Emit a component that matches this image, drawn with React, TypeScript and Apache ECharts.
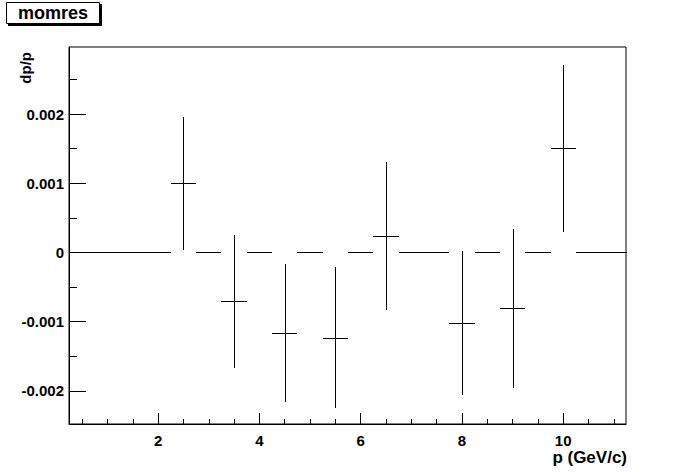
import React, { useEffect, useRef } from "react";
import * as echarts from "echarts";

// Histogram "momres": bin centres (GeV/c), dp/p contents and errors
const binCenters = [0.5, 1.0, 1.5, 2.0, 2.5, 3.0, 3.5, 4.0, 4.5, 5.0, 5.5, 6.0, 6.5, 7.0, 7.5, 8.0, 8.5, 9.0, 9.5, 10.0, 10.5, 11.0];
const dpOverP = [0, 0, 0, 0, 0.001, 0, -0.000709, 0, -0.00116, 0, -0.00123, 0, 0.00024, 0, 0, -0.001022, 0, -0.00081, 0, 0.001505, 0, 0];
const dpErrors = [0, 0, 0, 0, 0.000965, 0, 0.000958, 0, 0.000996, 0, 0.001018, 0, 0.001068, 0, 0, 0.001037, 0, 0.001148, 0, 0.001206, 0, 0];
const binHalfWidth = 0.25;

const xMajorTicks = [2, 4, 6, 8, 10];
const xMinorTicks = [0.5, 1.0, 1.5, 2.5, 3.0, 3.5, 4.5, 5.0, 5.5, 6.5, 7.0, 7.5, 8.5, 9.0, 9.5, 10.5, 11.0];
const yMajorTicks = [-0.002, -0.001, 0, 0.001, 0.002];
const yMinorTicks = [-0.0015, -0.0005, 0.0005, 0.0015, 0.0025];
const xRange = [0.24, 11.24];
const yRange = [-0.00248, 0.00297];

const FONT = "'Liberation Sans', Arial, Helvetica, sans-serif";

export default function App() {
  const ref = useRef<HTMLDivElement>(null);
  useEffect(() => {
    if (!ref.current) return;
    const chart = echarts.init(ref.current, undefined, { renderer: "svg" });
    const data = binCenters.map((c, i) => [c, dpOverP[i], dpErrors[i]]);
    const grid = { left: 69, right: 70, top: 47, bottom: 48, show: true, borderColor: "#000", borderWidth: 1, backgroundColor: "#fff" };
    const crisp = (v: number) => Math.round(v) + 0.5;
    const lab = { fontFamily: FONT, fontWeight: "bold" as const, fontSize: 15, color: "#000" };
    chart.setOption({
      animation: false,
      backgroundColor: "#fff",
      grid,
      xAxis: [
        {
          type: "value", min: xRange[0], max: xRange[1], gridIndex: 0,
          axisLine: { show: true, onZero: false, lineStyle: { color: "#000", width: 1 } },
          axisTick: { show: true, inside: true, length: 11, customValues: xMajorTicks, lineStyle: { color: "#000" } },
          axisLabel: { show: true, customValues: xMajorTicks, margin: 10, lineHeight: 13, ...lab },
          splitLine: { show: false },
        },
        {
          type: "value", min: xRange[0], max: xRange[1], gridIndex: 0, position: "bottom",
          axisLine: { show: false, onZero: false },
          axisTick: { show: true, inside: true, length: 5, customValues: xMinorTicks, lineStyle: { color: "#000" } },
          axisLabel: { show: false },
          splitLine: { show: false },
        },
      ],
      yAxis: [
        {
          type: "value", min: yRange[0], max: yRange[1], gridIndex: 0,
          axisLine: { show: true, onZero: false, lineStyle: { color: "#000", width: 1 } },
          axisTick: { show: true, inside: true, length: 17, customValues: yMajorTicks, lineStyle: { color: "#000" } },
          axisLabel: { show: true, customValues: yMajorTicks, margin: 5, formatter: (v: number) => (v === 0 ? "0" : String(+v.toFixed(4))), ...lab },
          splitLine: { show: false },
        },
        {
          type: "value", min: yRange[0], max: yRange[1], gridIndex: 0, position: "left",
          axisLine: { show: false, onZero: false },
          axisTick: { show: true, inside: true, length: 8, customValues: yMinorTicks, lineStyle: { color: "#000" } },
          axisLabel: { show: false },
          splitLine: { show: false },
        },
      ],
      graphic: [
        { type: "rect", shape: { x: 8, y: 4, width: 94, height: 22 }, style: { fill: "#000" }, z: 100 },
        { type: "rect", shape: { x: 6.5, y: 2.5, width: 93, height: 21 }, style: { fill: "#fff", stroke: "#000", lineWidth: 1 }, z: 101 },
        { type: "text", x: 53, y: 13, style: { text: "momres", fontFamily: FONT, fontWeight: "bold", fontSize: 18, fill: "#000", align: "center", verticalAlign: "middle" }, z: 102 },
        { type: "text", x: 25, y: 52, rotation: Math.PI / 2, style: { text: "dp/p", fontFamily: FONT, fontWeight: "bold", fontSize: 15, fill: "#000", align: "right", verticalAlign: "middle" }, z: 102 },
        { type: "text", x: 627, y: 457, style: { text: "p (GeV/c)", fontFamily: FONT, fontWeight: "bold", fontSize: 17, lineHeight: 16, fill: "#000", align: "right", verticalAlign: "middle" }, z: 102 },
      ],
      series: [
        {
          type: "custom",
          xAxisIndex: 0,
          yAxisIndex: 0,
          encode: { x: 0, y: 1 },
          data,
          renderItem: (_params: any, api: any) => {
            const x = api.value(0);
            const y = api.value(1);
            const e = api.value(2);
            const l = api.coord([x - binHalfWidth, y]);
            const r = api.coord([x + binHalfWidth, y]);
            const children: any[] = [
              { type: "line", shape: { x1: Math.round(l[0]), y1: crisp(l[1]), x2: Math.round(r[0]), y2: crisp(r[1]) }, style: { stroke: "#000", lineWidth: 1 } },
            ];
            if (e > 0) {
              const t = api.coord([x, y + e]);
              const b = api.coord([x, y - e]);
              children.push({ type: "line", shape: { x1: crisp(t[0]), y1: Math.round(t[1]), x2: crisp(b[0]), y2: Math.round(b[1]) }, style: { stroke: "#000", lineWidth: 1 } });
            }
            return { type: "group", children };
          },
        },
      ],
    });
    return () => chart.dispose();
  }, []);
  return <div ref={ref} style={{ position: "fixed", left: 0, top: 0, width: 696, height: 472, background: "#fff" }} />;
}
